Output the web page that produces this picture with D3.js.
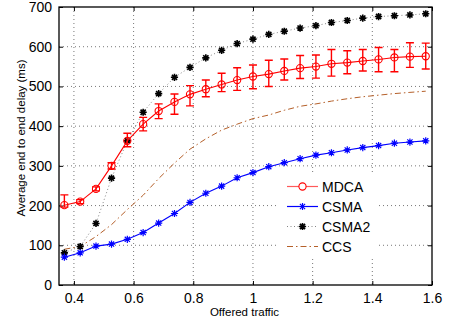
<!DOCTYPE html>
<html>
<head>
<meta charset="utf-8">
<script src="https://cdn.jsdelivr.net/npm/d3@7"></script>
<style>
  body { margin: 0; background: #fff; }
  svg { font-family: "Liberation Sans", Arial, sans-serif; }
</style>
</head>
<body>
<div id="chart"></div>
<script>
// offered traffic (k/19 steps)
const traffic = [0.368, 0.421, 0.474, 0.526, 0.579, 0.632, 0.684, 0.737, 0.789, 0.842, 0.895, 0.947,
  1.000, 1.053, 1.105, 1.158, 1.211, 1.263, 1.316, 1.368, 1.421, 1.474, 1.526, 1.579];
const mdca = [201, 210, 242, 300, 363, 405, 438, 461, 480, 493, 505, 516,
  525, 531, 539, 546, 550, 557, 560, 564, 568, 573, 575, 576];
const mdcaLow = [196, 205, 237, 292, 348, 388, 419, 430, 451, 474, 487, 490,
  494, 500, 516, 520, 521, 526, 532, 539, 537, 537, 548, 544];
const mdcaHigh = [227, 215, 247, 308, 382, 422, 456, 481, 502, 516, 533, 547,
  554, 566, 569, 578, 579, 593, 590, 593, 598, 593, 610, 609];
const csma = [70, 81, 98, 103, 115, 132, 156, 180, 208, 231, 249, 270,
  283, 298, 308, 318, 327, 333, 340, 346, 351, 357, 360, 363];
const csma2 = [81, 97, 155, 269, 363, 435, 482, 523, 548, 572, 591, 608,
  619, 631, 639, 647, 653, 661, 666, 672, 676, 678, 680, 683];
const ccs = [90, 97, 122, 152, 190, 226, 268, 307, 342, 368, 390, 405,
  419, 428, 440, 450, 456, 463, 469, 474, 478, 482, 485, 488];

const xTicks = [0.4, 0.6, 0.8, 1, 1.2, 1.4, 1.6];
const yTicks = [0, 100, 200, 300, 400, 500, 600, 700];
const seriesNames = ['MDCA', 'CSMA', 'CSMA2', 'CCS'];

const width = 450;
const height = 320;
const margin = { top: 7, right: 18, bottom: 35, left: 59 };
const plot = {
  left: margin.left,
  right: width - margin.right,
  top: margin.top,
  bottom: height - margin.bottom,
};

const svg = d3.select('#chart').append('svg')
  .attr('width', width)
  .attr('height', height);

const x = d3.scaleLinear().domain([0.35, 1.6]).range([plot.left, plot.right]);
const y = d3.scaleLinear().domain([0, 700]).range([plot.bottom, plot.top]);

// grid
const grid = svg.append('g')
  .attr('stroke', '#555')
  .attr('stroke-width', 0.8)
  .attr('stroke-dasharray', '1,3');
grid.selectAll('.gx').data(xTicks.slice(0, -1)).join('line')
  .attr('x1', (d) => x(d)).attr('x2', (d) => x(d))
  .attr('y1', plot.top).attr('y2', plot.bottom);
grid.selectAll('.gy').data(yTicks.slice(1, -1)).join('line')
  .attr('class', 'gy')
  .attr('x1', plot.left).attr('x2', plot.right)
  .attr('y1', (d) => y(d)).attr('y2', (d) => y(d));

// axes (ticks inward, like matlab)
const axBottom = svg.append('g')
  .attr('transform', `translate(0,${plot.bottom})`)
  .call(d3.axisBottom(x).tickValues(xTicks).tickSizeInner(-4).tickSizeOuter(0).tickPadding(8)
    .tickFormat(d3.format('')));
const axTop = svg.append('g')
  .attr('transform', `translate(0,${plot.top})`)
  .call(d3.axisTop(x).tickValues(xTicks).tickSizeInner(-4).tickSizeOuter(0).tickFormat(''));
const axLeft = svg.append('g')
  .attr('transform', `translate(${plot.left},0)`)
  .call(d3.axisLeft(y).tickValues(yTicks).tickSizeInner(-4).tickSizeOuter(0).tickPadding(7));
const axRight = svg.append('g')
  .attr('transform', `translate(${plot.right},0)`)
  .call(d3.axisRight(y).tickValues(yTicks).tickSizeInner(-4).tickSizeOuter(0).tickFormat(''));
[axBottom, axTop, axLeft, axRight].forEach((g) => {
  g.select('.domain').remove();
  g.selectAll('.tick line').attr('stroke', '#000');
  g.selectAll('text').attr('fill', '#000').style('font-size', '14px');
});

svg.append('rect')
  .attr('x', plot.left).attr('y', plot.top)
  .attr('width', plot.right - plot.left).attr('height', plot.bottom - plot.top)
  .attr('fill', 'none').attr('stroke', '#000').attr('stroke-width', 1.3);

// axis labels
svg.append('text')
  .attr('x', (plot.left + plot.right) / 2 - 1)
  .attr('y', 316)
  .attr('text-anchor', 'middle')
  .style('font-size', '11.5px')
  .text('Offered traffic');
svg.append('text')
  .attr('transform', `translate(25,${(plot.top + plot.bottom) / 2 - 8}) rotate(-90)`)
  .attr('text-anchor', 'middle')
  .style('font-size', '11.5px')
  .text('Average end to end delay (ms)');

const line = (vals) => d3.line().x((d, i) => x(traffic[i])).y((d) => y(d))(vals);

// asterisk marker path
function star(cx, cy, r) {
  const a = r * 0.72;
  return `M${cx - r},${cy}L${cx + r},${cy}M${cx},${cy - r}L${cx},${cy + r}` +
    `M${cx - a},${cy - a}L${cx + a},${cy + a}M${cx - a},${cy + a}L${cx + a},${cy - a}`;
}

const red = '#ff0000';
const blue = '#0000ff';
const brown = '#b5602a';

// CCS
svg.append('path').attr('d', line(ccs))
  .attr('fill', 'none').attr('stroke', brown).attr('stroke-width', 1)
  .attr('stroke-dasharray', '6,3,1.5,3');

// CSMA2
svg.append('path').attr('d', line(csma2))
  .attr('fill', 'none').attr('stroke', '#666').attr('stroke-width', 0.8)
  .attr('stroke-dasharray', '1,2.5');
svg.append('g').selectAll('path').data(csma2).join('path')
  .attr('d', (d, i) => star(x(traffic[i]), y(d), 3.6))
  .attr('stroke', '#000').attr('stroke-width', 1.6);

// CSMA
svg.append('path').attr('d', line(csma))
  .attr('fill', 'none').attr('stroke', blue).attr('stroke-width', 1.1);
svg.append('g').selectAll('path').data(csma).join('path')
  .attr('d', (d, i) => star(x(traffic[i]), y(d), 3.6))
  .attr('stroke', blue).attr('stroke-width', 1.2);

// MDCA with error bars
const eb = svg.append('g').attr('stroke', red).attr('stroke-width', 1.4).attr('fill', 'none');
eb.selectAll('path').data(mdca).join('path')
  .attr('d', (d, i) => {
    const cx = x(traffic[i]);
    const lo = y(mdcaLow[i]);
    const hi = y(mdcaHigh[i]);
    return `M${cx},${lo}L${cx},${hi}M${cx - 4},${lo}L${cx + 4},${lo}M${cx - 4},${hi}L${cx + 4},${hi}`;
  });
svg.append('path').attr('d', line(mdca))
  .attr('fill', 'none').attr('stroke', red).attr('stroke-width', 1.1);
svg.append('g').selectAll('circle').data(mdca).join('circle')
  .attr('cx', (d, i) => x(traffic[i])).attr('cy', (d) => y(d)).attr('r', 3.6)
  .attr('fill', 'none').attr('stroke', red).attr('stroke-width', 1.1);

// legend
const legend = svg.append('g');
legend.append('rect')
  .attr('x', 279).attr('y', 172).attr('width', 99).attr('height', 86)
  .attr('fill', '#fff');
const styles = [
  { stroke: '#ff5a5a', dash: null, marker: 'circle', mcolor: red, w: 1.2 },
  { stroke: blue, dash: null, marker: 'star', mcolor: blue, w: 1.2 },
  { stroke: '#666', dash: '1,2.5', marker: 'star', mcolor: '#000', w: 0.8 },
  { stroke: brown, dash: '6,3,1.5,3', marker: null, mcolor: null, w: 1 },
];
seriesNames.forEach((name, i) => {
  const ly = 186.5 + i * 20;
  const s = styles[i];
  legend.append('line')
    .attr('x1', 287).attr('x2', 318).attr('y1', ly).attr('y2', ly)
    .attr('stroke', s.stroke).attr('stroke-width', s.w)
    .attr('stroke-dasharray', s.dash);
  if (s.marker === 'circle') {
    legend.append('circle').attr('cx', 302.5).attr('cy', ly).attr('r', 3.6)
      .attr('fill', '#fff').attr('stroke', s.mcolor).attr('stroke-width', 1.1);
  } else if (s.marker === 'star') {
    legend.append('path').attr('d', star(302.5, ly, 3.6))
      .attr('stroke', s.mcolor).attr('stroke-width', i === 2 ? 1.6 : 1.2);
  }
  legend.append('text')
    .attr('x', 322).attr('y', ly + 5)
    .style('font-size', '14px')
    .text(name);
});
</script>
</body>
</html>
